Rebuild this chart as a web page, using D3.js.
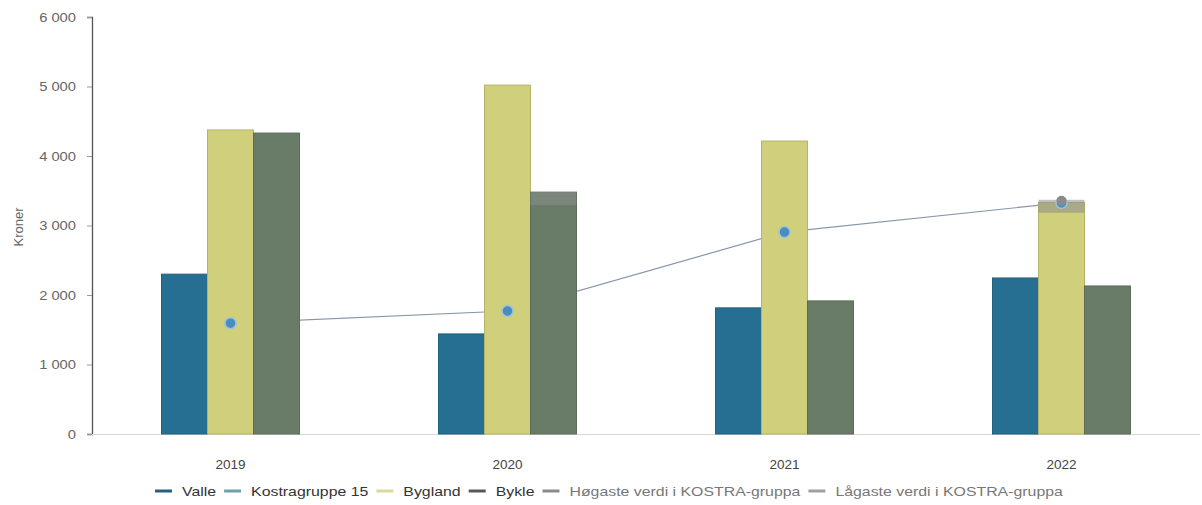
<!DOCTYPE html>
<html><head><meta charset="utf-8">
<script src="https://cdn.jsdelivr.net/npm/d3@7"></script>
<style>
html,body{margin:0;padding:0;background:#fff;}
svg{display:block;font-family:"Liberation Sans",Arial,sans-serif;}
</style></head>
<body>
<svg id="chart" width="1202" height="505"></svg>
<script>
const years = ["2019", "2020", "2021", "2022"];
const valle = [2300, 1440, 1815, 2245];
const bygland = [4375, 5020, 4215, 3330];
const bykle = [4330, 3480, 1915, 2130];
const kostragruppe = [1595, 1770, 2905, 3325];
const hogaste = [null, 3480, null, 3370];
const hogasteAt = [null, "Bykle", null, "Bygland"];
const yTicks = [0, 1000, 2000, 3000, 4000, 5000, 6000];
const barSeries = ["Valle", "Bygland", "Bykle"];
const legendNames = ["Valle", "Kostragruppe 15", "Bygland", "Bykle", "Høgaste verdi i KOSTRA-gruppa", "Lågaste verdi i KOSTRA-gruppa"];

const colors = {Valle:"#276f92", Bygland:"#cfcf7c", Bykle:"#687c67"};
const legendColors = ["#24607f", "#6aa3ab", "#d9d99a", "#555a58", "#8a8a8a", "#a0a0a0"];

const svg = d3.select("#chart");
const mLeft = 92, mRight = 1200, mTop = 17, mBottom = 434;
const SX = 1.18;
const LSX = 1.22;

const x = d3.scaleBand().domain(years).range([mLeft, mRight]);
const inner = d3.scaleBand().domain(barSeries).range([0, 138]);
const y = d3.scaleLinear().domain([0, 6000]).range([mBottom, mTop]);

// y axis
const yAxis = svg.append("g").attr("transform", `translate(${mLeft},0)`)
  .call(d3.axisLeft(y).tickValues(yTicks).tickSize(5).tickPadding(11)
    .tickFormat(d => d3.format(",")(d).replace(/,/g, " ")));
yAxis.select(".domain").attr("stroke", "#555").attr("stroke-width", 1.3);
yAxis.selectAll(".tick line").attr("stroke", "#999");
yAxis.selectAll(".tick text").attr("fill", "#666").attr("font-size", 12.5)
  .attr("font-family", "Liberation Sans, Arial, sans-serif")
  .attr("transform", function() {
    const tx = +d3.select(this).attr("x");
    return `translate(${tx * (1 - SX)},0) scale(${SX},1)`;
  });

svg.append("text").attr("transform", "translate(23,227) rotate(-90)")
  .attr("text-anchor", "middle").attr("fill", "#666").attr("font-size", 13)
  .text("Kroner");

// x baseline
svg.append("line").attr("x1", mLeft).attr("x2", mRight).attr("y1", mBottom + 0.5).attr("y2", mBottom + 0.5)
  .attr("stroke", "#d8d8d8").attr("stroke-width", 1.2);

// x labels
const xAxis = svg.append("g").attr("transform", `translate(0,${mBottom})`)
  .call(d3.axisBottom(x).tickSize(0).tickPadding(25));
xAxis.select(".domain").remove();
xAxis.selectAll(".tick text").attr("fill", "#444").attr("font-size", 13.5)
  .attr("font-family", "Liberation Sans, Arial, sans-serif");

// Kostragruppe line (behind bars)
const line = d3.line().x((d, i) => x(years[i]) + x.bandwidth() / 2).y(d => y(d));
svg.append("path").datum(kostragruppe).attr("d", line)
  .attr("fill", "none").attr("stroke", "#8796ab").attr("stroke-width", 1.2);

// bars
const seriesData = {Valle: valle, Bygland: bygland, Bykle: bykle};
const groupOffset = x.bandwidth() / 2 - 69;
barSeries.forEach(s => {
  svg.append("g").selectAll("rect").data(seriesData[s]).join("rect")
    .attr("x", (d, i) => x(years[i]) + groupOffset + inner(s))
    .attr("y", d => y(d))
    .attr("width", inner.bandwidth())
    .attr("height", d => mBottom - y(d))
    .attr("fill", colors[s])
    .attr("stroke", d3.color(colors[s]).darker(0.4))
    .attr("stroke-width", 1);
});

// Høgaste verdi markers
hogaste.forEach((v, i) => {
  if (v == null) return;
  svg.append("rect")
    .attr("x", x(years[i]) + groupOffset + inner(hogasteAt[i]))
    .attr("y", y(v))
    .attr("width", inner.bandwidth())
    .attr("height", 13)
    .attr("fill", "#8c8c8c").attr("opacity", 0.55);
});

// Kostragruppe markers
svg.append("g").selectAll("circle").data(kostragruppe).join("circle")
  .attr("cx", (d, i) => x(years[i]) + x.bandwidth() / 2)
  .attr("cy", d => y(d))
  .attr("r", 5.5)
  .attr("fill", "#4a8cc0").attr("stroke", "#9cc3dc").attr("stroke-width", 1.5);

// grey dot on 2022
hogaste.forEach((v, i) => {
  if (v == null || hogasteAt[i] !== "Bygland") return;
  svg.append("circle").attr("cx", x(years[i]) + x.bandwidth() / 2).attr("cy", y(v) + 1)
    .attr("r", 5).attr("fill", "#8a8a8a");
});

// legend
const legend = svg.append("g").attr("transform", "translate(0,491)");
let lx = 155;
legendNames.forEach((name, i) => {
  const g = legend.append("g").attr("transform", `translate(${lx},0)`);
  g.append("line").attr("x1", 0).attr("x2", 17).attr("y1", 0).attr("y2", 0)
    .attr("stroke", legendColors[i]).attr("stroke-width", 3);
  const t = g.append("text").attr("transform", `translate(27,4.5) scale(${LSX},1)`)
    .attr("fill", i >= 4 ? "#777" : "#333")
    .attr("font-size", 13).text(name);
  lx += 27 + t.node().getComputedTextLength() * LSX + 8;
});
</script>
</body></html>
